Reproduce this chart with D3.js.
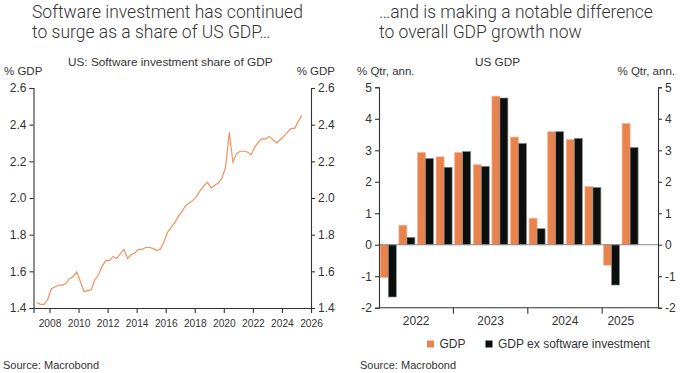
<!DOCTYPE html>
<html><head><meta charset="utf-8">
<script src="https://cdn.jsdelivr.net/npm/d3@7"></script>
<style>
body{margin:0;background:#fff;}
svg{display:block;}
text{font-family:"Liberation Sans",Arial,sans-serif;fill:#333;}
.title{font-family:Roboto,"Liberation Sans",sans-serif;font-weight:300;font-size:17.5px;fill:#333;}
</style></head>
<body>
<svg id="c" width="680" height="373"></svg>
<script>
// ---------- Left chart data: US software investment share of GDP (quarterly, 2007Q1..2025Q2)
const shareStart = [2007, 1];
const shareValues = [1.43,1.42,1.42,1.445,1.505,1.515,1.525,1.525,1.533,1.56,1.57,1.597,
  1.545,1.49,1.495,1.50,1.555,1.58,1.627,1.66,1.658,1.68,1.67,1.696,
  1.72,1.67,1.69,1.70,1.72,1.72,1.73,1.73,1.725,1.713,1.72,1.76,
  1.813,1.838,1.867,1.90,1.927,1.958,1.973,1.987,2.009,2.04,2.067,2.085,
  2.055,2.069,2.082,2.109,2.169,2.358,2.195,2.242,2.255,2.255,2.251,2.236,
  2.278,2.304,2.322,2.322,2.336,2.318,2.30,2.318,2.336,2.358,2.38,2.38,2.418,2.449];
const shareYTicks = [1.4,1.6,1.8,2.0,2.2,2.4,2.6];
const shareXTicks = [2008,2010,2012,2014,2016,2018,2020,2022,2024,2026];

// ---------- Right chart data: US GDP growth, % q/q annualised
const quarters = ["2022Q1","2022Q2","2022Q3","2022Q4","2023Q1","2023Q2","2023Q3","2023Q4",
  "2024Q1","2024Q2","2024Q3","2024Q4","2025Q1","2025Q2","2025Q3"];
const gdp =      [-1.04,0.62,2.93,2.79,2.93,2.54,4.72,3.42,0.84,3.59,3.34,1.85,-0.65,3.85,null];
const gdpExSoft = [-1.66,0.235,2.74,2.46,2.96,2.49,4.66,3.22,0.51,3.59,3.38,1.82,-1.28,3.09,null];
const gdpYTicks = [-2,-1,0,1,2,3,4,5];
const years = ["2022","2023","2024","2025"];
const seriesNames = ["GDP","GDP ex software investment"];

const ORANGE = "#e8834e", LINE_OR = "#f0925f", BLACK = "#0b0f0e", AX = "#333";
const svg = d3.select("#c");
const intFmt = d => String(d);   // plain hyphen minus, as in the reference

// ================= LEFT CHART =================
{
  const L = 33.5, R = 311, T = 88, B = 308;
  const x = d3.scaleLinear().domain([2006.9, 2026]).range([L, R]);
  const y = d3.scaleLinear().domain([1.4, 2.6]).range([B, T]);
  const g = svg.append("g");
  g.append("text").attr("class","title").attr("x",32).attr("y",17.5).text("Software investment has continued");
  g.append("text").attr("class","title").attr("x",32).attr("y",38).text("to surge as a share of US GDP…");
  g.append("text").attr("x",(L+R)/2-2).attr("y",66).attr("text-anchor","middle").style("font-size","11.8px").text("US: Software investment share of GDP");
  g.append("text").attr("x",4).attr("y",75).style("font-size","11.5px").text("% GDP");
  g.append("text").attr("x",335).attr("y",75).attr("text-anchor","end").style("font-size","11.5px").text("% GDP");

  const yl = g.append("g").attr("transform",`translate(${L},0)`)
    .call(d3.axisLeft(y).tickValues(shareYTicks).tickFormat(d3.format(".1f")).tickSize(4).tickPadding(3));
  const yr = g.append("g").attr("transform",`translate(${R},0)`)
    .call(d3.axisRight(y).tickValues(shareYTicks).tickFormat(d3.format(".1f")).tickSize(4).tickPadding(3));
  const xb = g.append("g").attr("transform",`translate(0,${B})`)
    .call(d3.axisBottom(x).tickValues(shareXTicks).tickFormat(d3.format("d")).tickSize(5).tickPadding(7));
  [yl,yr].forEach(a=>{a.selectAll("text").style("font-size","12px").attr("fill","#333");});
  xb.selectAll("text").style("font-size","10.2px").attr("fill","#333");
  [yl,yr,xb].forEach(a=>{a.select(".domain").attr("stroke",AX).attr("stroke-width",1.1);
    a.selectAll(".tick line").attr("stroke",AX).attr("stroke-width",1.1);});

  const pts = shareValues.map((v,i)=>({t: shareStart[0] + (shareStart[1]-1+i)/4 + 0.125, v}));
  g.append("path").datum(pts).attr("fill","none").attr("stroke",LINE_OR).attr("stroke-width",1.2)
    .attr("d", d3.line().x(d=>x(d.t)).y(d=>y(d.v)));
  g.append("text").attr("x",3).attr("y",369).style("font-size","11px").attr("fill","#555").text("Source: Macrobond");
}

// ================= RIGHT CHART =================
{
  const L = 379, R = 658, T = 87.3, B = 307.7;
  const x0 = d3.scaleBand().domain(quarters).range([L, R]).paddingInner(0.14).paddingOuter(0.07);
  const x1 = d3.scaleBand().domain(seriesNames).range([0, x0.bandwidth()]);
  const y = d3.scaleLinear().domain([-2, 5]).range([B, T]);
  const g = svg.append("g");
  g.append("text").attr("class","title").attr("x",379).attr("y",17.5).text("…and is making a notable difference");
  g.append("text").attr("class","title").attr("x",379).attr("y",38).text("to overall GDP growth now");
  g.append("text").attr("x",497.5).attr("y",66).attr("text-anchor","middle").style("font-size","11.8px").text("US GDP");
  g.append("text").attr("x",357).attr("y",75).style("font-size","11.5px").text("% Qtr, ann.");
  g.append("text").attr("x",675).attr("y",75).attr("text-anchor","end").style("font-size","11.5px").text("% Qtr, ann.");

  const series = [gdp, gdpExSoft];
  const colors = [ORANGE, BLACK];
  const strokes = ["#f6b493", "#8a8a8a"];
  series.forEach((vals,si)=>{
    g.append("g").selectAll("rect").data(vals.map((v,i)=>({q:quarters[i],v})).filter(d=>d.v!==null))
      .join("rect")
      .attr("x",d=>x0(d.q)+x1(seriesNames[si]))
      .attr("width",x1.bandwidth())
      .attr("y",d=>y(Math.max(0,d.v)))
      .attr("height",d=>Math.abs(y(d.v)-y(0)))
      .attr("fill",colors[si]).attr("stroke",strokes[si]).attr("stroke-width",0.7);
  });
  // zero line
  g.append("line").attr("x1",L).attr("x2",R).attr("y1",y(0)).attr("y2",y(0)).attr("stroke","#888").attr("stroke-width",1.2);

  const yl = g.append("g").attr("transform",`translate(${L},0)`)
    .call(d3.axisLeft(y).tickValues(gdpYTicks).tickFormat(intFmt).tickSize(4).tickPadding(3));
  const yr = g.append("g").attr("transform",`translate(${R},0)`)
    .call(d3.axisRight(y).tickValues(gdpYTicks).tickFormat(intFmt).tickSize(4).tickPadding(3));
  // year boundary ticks on bottom axis
  const yearBounds = years.slice(1).map(yy=>x0(yy+"Q1") - x0.step()*x0.paddingInner()/2);
  const xb = g.append("g").attr("transform",`translate(0,${B})`);
  xb.append("line").attr("x1",L).attr("x2",R).attr("stroke",AX).attr("stroke-width",1.1);
  xb.selectAll("line.tk").data(yearBounds).join("line").attr("class","tk")
    .attr("x1",d=>d).attr("x2",d=>d).attr("y1",0).attr("y2",6).attr("stroke",AX).attr("stroke-width",1.1);
  // year labels centred on the quarters with data in each year
  years.forEach(yy=>{
    const qs = quarters.filter((q,i)=>q.startsWith(yy) && gdp[i]!==null);
    const c = (x0(qs[0]) + x0(qs[qs.length-1]) + x0.bandwidth())/2;
    xb.append("text").attr("x",c).attr("y",17.5).attr("text-anchor","middle").style("font-size","12px").text(yy);
  });
  [yl,yr].forEach(a=>{a.selectAll("text").style("font-size","12px").attr("fill","#333");
    a.select(".domain").attr("stroke",AX).attr("stroke-width",1.1);
    a.selectAll(".tick line").attr("stroke",AX).attr("stroke-width",1.1);});

  // legend
  const lg = g.append("g");
  const items = [{n:seriesNames[0],c:ORANGE,x:427},{n:seriesNames[1],c:BLACK,x:485.5}];
  items.forEach(it=>{
    lg.append("rect").attr("x",it.x).attr("y",340.5).attr("width",7).attr("height",7).attr("fill",it.c);
    lg.append("text").attr("x",it.x+12.5).attr("y",347.5).style("font-size","12px").text(it.n);
  });
  g.append("text").attr("x",360).attr("y",369).style("font-size","11px").attr("fill","#555").text("Source: Macrobond");
}
</script>
</body></html>
